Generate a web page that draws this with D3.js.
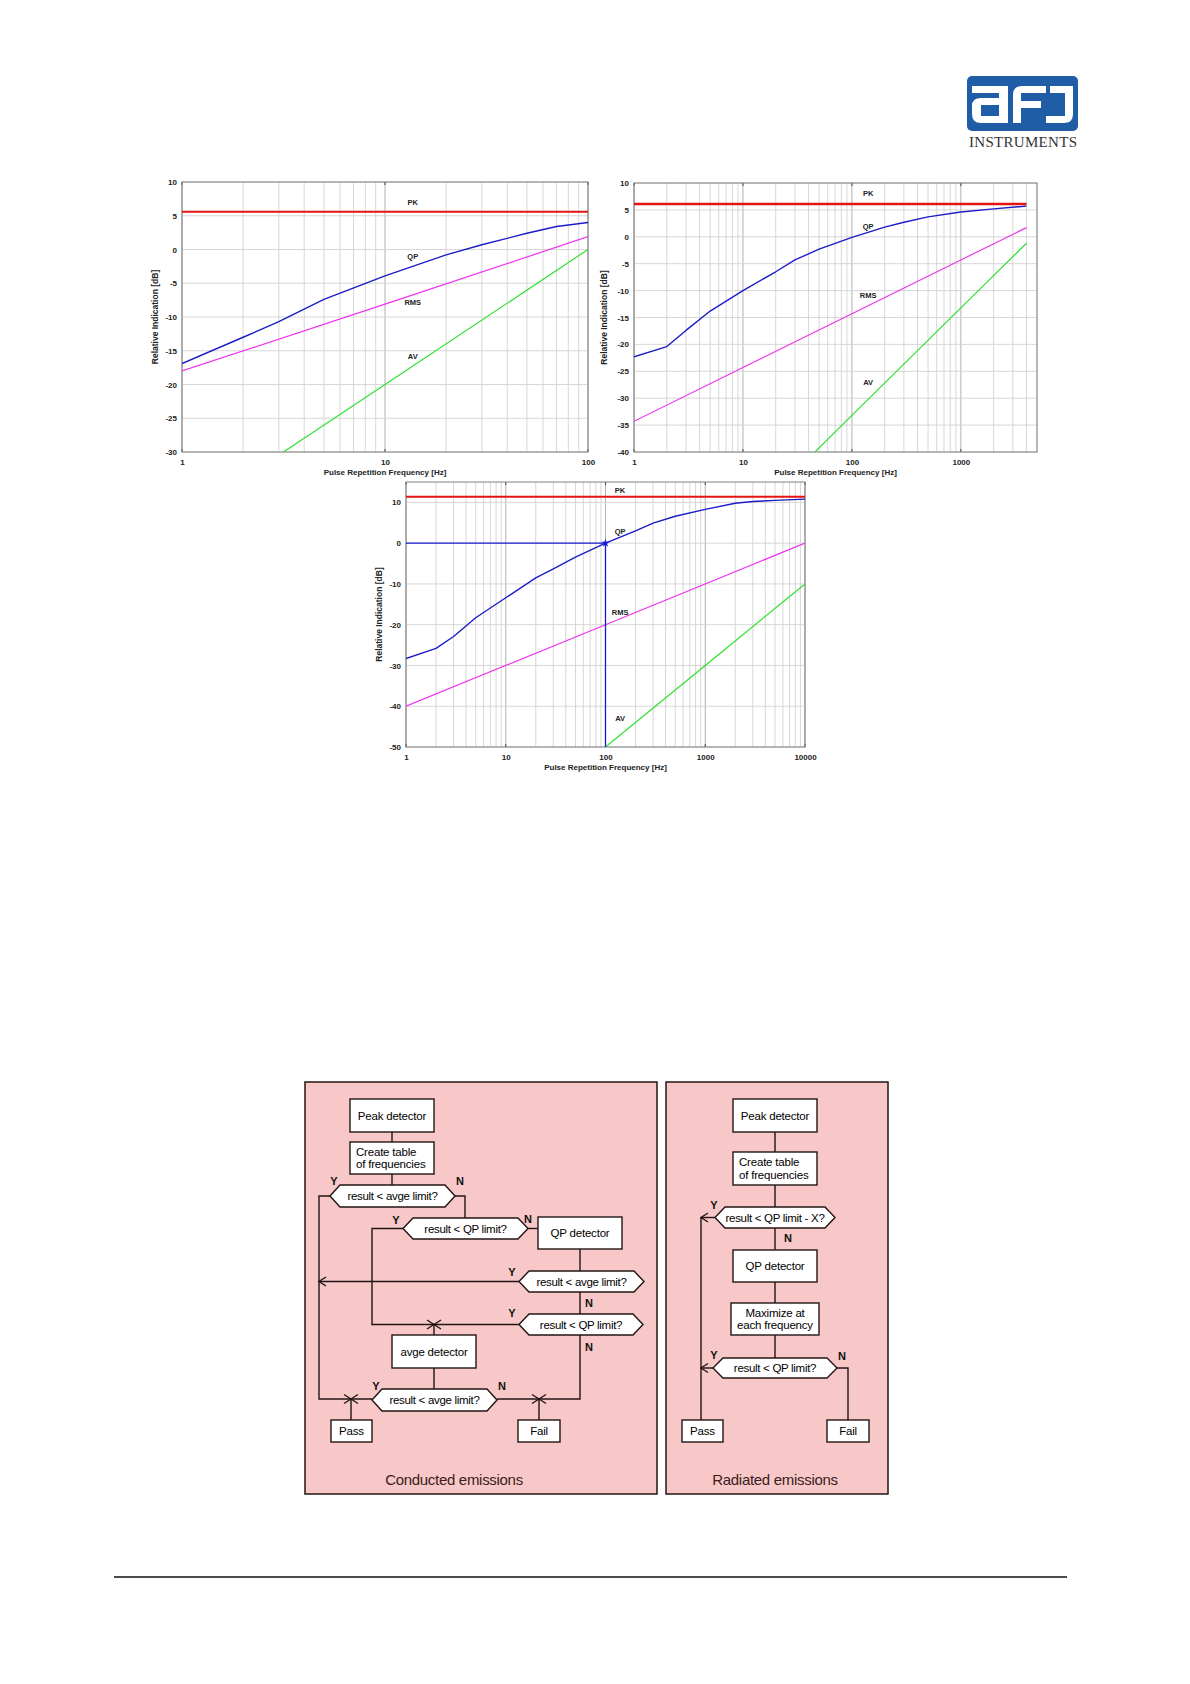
<!DOCTYPE html>
<html>
<head>
<meta charset="utf-8">
<script src="https://cdn.jsdelivr.net/npm/d3@7"></script>
<style>
body{margin:0;background:#fff;}
text{font-family:"Liberation Sans",Arial,sans-serif;}
</style>
</head>
<body>
<script>
// ---- chart 1 : 1..100 Hz
var c1XTicks = [1,10,100];
var c1XLabels = ["1","10","100"];
var c1YTicks = [-30,-25,-20,-15,-10,-5,0,5,10];
var c1PKFreq = [1,100];
var c1PK = [5.6,5.6];
var c1QPFreq = [1,2,3,5,10,20,30,50,70,100];
var c1QP = [-16.9,-13.0,-10.7,-7.4,-3.9,-0.8,0.7,2.4,3.4,4.0];
var c1RMSFreq = [1,10,100];
var c1RMS = [-18,-8.1,1.9];
var c1AVFreq = [3.16,10,100];
var c1AV = [-30,-20,0];

// ---- chart 2 : 1..5000 Hz
var c2XTicks = [1,10,100,1000];
var c2XLabels = ["1","10","100","1000"];
var c2YTicks = [-40,-35,-30,-25,-20,-15,-10,-5,0,5,10];
var c2PKFreq = [1,4000];
var c2PK = [6.1,6.1];
var c2QPFreq = [1,2,3,5,10,20,30,50,100,200,300,500,1000,2000,4000];
var c2QP = [-22.3,-20.4,-17.4,-13.8,-10.0,-6.5,-4.3,-2.3,-0.1,1.8,2.7,3.7,4.6,5.2,5.7];
var c2RMSFreq = [1,10,100,1000,4000];
var c2RMS = [-34.3,-24.3,-14.3,-4.3,1.7];
var c2AVFreq = [45.8,100,1000,4000];
var c2AV = [-40,-33.2,-13.2,-1.2];

// ---- chart 3 : 1..10000 Hz
var c3XTicks = [1,10,100,1000,10000];
var c3XLabels = ["1","10","100","1000","10000"];
var c3YTicks = [-50,-40,-30,-20,-10,0,10];
var c3PKFreq = [1,10000];
var c3PK = [11.4,11.4];
var c3QPFreq = [1,2,3,5,10,20,30,50,100,200,300,500,1000,2000,3000,5000,10000];
var c3QP = [-28.3,-25.8,-22.9,-18.3,-13.4,-8.5,-6.3,-3.4,0,3.0,4.9,6.6,8.3,9.8,10.2,10.5,10.8];
var c3RMSFreq = [1,100,10000];
var c3RMS = [-40,-20,0];
var c3AVFreq = [100,1000,10000];
var c3AV = [-50,-30,-10];
var c3MarkFreq = [1,100,100];
var c3MarkVal = [0,0,-50];

var svg = d3.select("body").append("svg").attr("width",1190).attr("height",1684);
svg.append("rect").attr("width",1190).attr("height",1684).attr("fill","#fff");

function drawChart(cfg, id){
  var x = d3.scaleLog().domain(cfg.xDomain).range([cfg.left,cfg.right]);
  var y = d3.scaleLinear().domain(cfg.yDomain).range([cfg.bottom,cfg.top]);
  var g = svg.append("g");

  g.append("clipPath").attr("id","clip"+id).append("rect")
    .attr("x",cfg.left).attr("y",cfg.top)
    .attr("width",cfg.right-cfg.left).attr("height",cfg.bottom-cfg.top);

  // grid
  g.selectAll("line.vg").data(x.ticks()).enter().append("line")
    .attr("class","vg")
    .attr("x1",function(d){return x(d);}).attr("x2",function(d){return x(d);})
    .attr("y1",cfg.top).attr("y2",cfg.bottom)
    .attr("stroke",function(d){return Math.abs(Math.log10(d)%1)<1e-9 ? "#a8a8a8" : "#d2d2d2";})
    .attr("stroke-width",0.9);
  g.selectAll("line.hg").data(cfg.yTicks).enter().append("line")
    .attr("class","hg")
    .attr("x1",cfg.left).attr("x2",cfg.right)
    .attr("y1",function(d){return y(d);}).attr("y2",function(d){return y(d);})
    .attr("stroke","#d2d2d2").attr("stroke-width",0.9);

  // small ticks on the frame
  g.selectAll("line.tt").data(cfg.xTicks).enter().append("line")
    .attr("x1",function(d){return x(d);}).attr("x2",function(d){return x(d);})
    .attr("y1",cfg.top).attr("y2",cfg.top+3).attr("stroke","#444");
  g.selectAll("line.bt").data(cfg.xTicks).enter().append("line")
    .attr("x1",function(d){return x(d);}).attr("x2",function(d){return x(d);})
    .attr("y1",cfg.bottom).attr("y2",cfg.bottom-3).attr("stroke","#444");

  g.append("rect").attr("x",cfg.left).attr("y",cfg.top)
    .attr("width",cfg.right-cfg.left).attr("height",cfg.bottom-cfg.top)
    .attr("fill","none").attr("stroke","#808080").attr("stroke-width",1);

  // axes (labels only)
  var ax = g.append("g").attr("transform","translate(0,"+cfg.bottom+")")
    .call(d3.axisBottom(x).tickValues(cfg.xTicks)
      .tickFormat(function(d,i){return cfg.xLabels[i];}).tickSize(0).tickPadding(7));
  var ay = g.append("g").attr("transform","translate("+cfg.left+",0)")
    .call(d3.axisLeft(y).tickValues(cfg.yTicks)
      .tickFormat(function(d){return String(d);}).tickSize(0).tickPadding(5));
  [ax,ay].forEach(function(a){
    a.select(".domain").remove();
    a.selectAll("text").attr("font-size",8).attr("font-weight","bold")
      .attr("fill","#222").attr("font-family","Liberation Sans, Arial, sans-serif");
  });

  g.append("text").text("Pulse Repetition Frequency [Hz]")
    .attr("x",(cfg.left+cfg.right)/2).attr("y",cfg.bottom+23)
    .attr("text-anchor","middle").attr("font-size",8).attr("font-weight","bold").attr("fill","#222");
  g.append("text").text("Relative Indication [dB]")
    .attr("transform","translate("+(cfg.left-cfg.yTitleOff)+","+((cfg.top+cfg.bottom)/2)+") rotate(-90)")
    .attr("text-anchor","middle").attr("font-size",8.5).attr("font-weight","bold").attr("fill","#222");

  var line = d3.line().x(function(d){return x(d[0]);}).y(function(d){return y(d[1]);});
  var lines = g.append("g").attr("clip-path","url(#clip"+id+")");
  cfg.series.forEach(function(s){
    lines.append("path").datum(d3.zip(s.f,s.v)).attr("d",line)
      .attr("fill","none").attr("stroke",s.color).attr("stroke-width",s.w)
      .attr("stroke-linejoin","round");
  });
  if(cfg.mark){
    lines.append("path").datum(d3.zip(cfg.mark.f,cfg.mark.v)).attr("d",line)
      .attr("fill","none").attr("stroke","#1a1ad0").attr("stroke-width",1.3);
    g.append("path").attr("d",d3.symbol().type(d3.symbolStar).size(22)())
      .attr("transform","translate("+x(cfg.mark.f[1])+","+y(cfg.mark.v[1])+")")
      .attr("fill","#1a1ad0");
  }
  cfg.labels.forEach(function(l){
    g.append("text").text(l[0]).attr("x",x(cfg.labelF)).attr("y",y(l[1]))
      .attr("dominant-baseline","central").attr("text-anchor","middle")
      .attr("font-size",7.5).attr("font-weight","bold").attr("fill","#222");
  });
}

var RED="#e41414", BLUE="#1c1cc8", MAG="#f032f0", GRN="#2ee02e";

drawChart({left:182,right:588,top:182,bottom:452,xDomain:[1,100],yDomain:[-30,10],
  xTicks:c1XTicks,xLabels:c1XLabels,yTicks:c1YTicks,yTitleOff:24,labelF:13.7,
  labels:[["PK",7.0],["QP",-1.0],["RMS",-7.9],["AV",-15.9]],
  series:[{f:c1PKFreq,v:c1PK,color:RED,w:2},{f:c1QPFreq,v:c1QP,color:BLUE,w:1.4},
          {f:c1RMSFreq,v:c1RMS,color:MAG,w:1.2},{f:c1AVFreq,v:c1AV,color:GRN,w:1.2}]},1);

drawChart({left:634,right:1037,top:183,bottom:452,xDomain:[1,5000],yDomain:[-40,10],
  xTicks:c2XTicks,xLabels:c2XLabels,yTicks:c2YTicks,yTitleOff:27,labelF:141,
  labels:[["PK",8.1],["QP",2.0],["RMS",-11.0],["AV",-27.0]],
  series:[{f:c2PKFreq,v:c2PK,color:RED,w:2.6},{f:c2QPFreq,v:c2QP,color:BLUE,w:1.4},
          {f:c2RMSFreq,v:c2RMS,color:MAG,w:1.2},{f:c2AVFreq,v:c2AV,color:GRN,w:1.2}]},2);

drawChart({left:406,right:805,top:482,bottom:747,xDomain:[1,10000],yDomain:[-50,15],
  xTicks:c3XTicks,xLabels:c3XLabels,yTicks:c3YTicks,yTitleOff:24,labelF:140,
  labels:[["PK",12.8],["QP",2.8],["RMS",-16.9],["AV",-42.9]],
  mark:{f:c3MarkFreq,v:c3MarkVal},
  series:[{f:c3PKFreq,v:c3PK,color:RED,w:2},{f:c3QPFreq,v:c3QP,color:BLUE,w:1.4},
          {f:c3RMSFreq,v:c3RMS,color:MAG,w:1.2},{f:c3AVFreq,v:c3AV,color:GRN,w:1.2}]},3);

// ---- logo
var logo = svg.append("g");
logo.append("rect").attr("x",967).attr("y",76).attr("width",111).attr("height",55).attr("rx",5).attr("fill","#1f5ea6");
logo.append("path").attr("fill","#fff").attr("fill-rule","evenodd")
  .attr("d","M972,86 H1008 V123 H981 Q972,123 972,114 V106 Q972,98 981,98 H999 V93 H972 Z M981,105 H999 V116 H981 Z");
logo.append("path").attr("fill","#fff")
  .attr("d","M1013,123 V95 Q1013,86 1022,86 H1046 V93 H1021 V101 H1041 V108 H1021 V123 Z");
logo.append("path").attr("fill","#fff")
  .attr("d","M1050,86 H1073 V114 Q1073,123 1064,123 H1046 V116 H1065 V93 H1050 Z");
logo.append("text").text("INSTRUMENTS").attr("x",969).attr("y",147)
  .attr("textLength",108).style("font-family","Liberation Serif, Times New Roman, serif")
  .attr("font-size",15).attr("fill","#333");

// ---- flowcharts
var fc = svg.append("g");
var PINK="#f8c8c8", INK="#221414";
var panels = [[305,1082,657,1494,"Conducted emissions",454],[666,1082,888,1494,"Radiated emissions",775]];
var boxes = [
  [350,1099,434,1132,["Peak detector"],"c"],
  [350,1142,434,1174,["Create table","of frequencies"],"l"],
  [538,1217,622,1249,["QP detector"],"c"],
  [392,1335,476,1368,["avge detector"],"c"],
  [331,1420,372,1442,["Pass"],"c"],
  [518,1420,560,1442,["Fail"],"c"],
  [733,1099,817,1132,["Peak detector"],"c"],
  [733,1152,817,1185,["Create table","of frequencies"],"l"],
  [733,1250,817,1282,["QP detector"],"c"],
  [731,1303,819,1335,["Maximize at","each frequency"],"c"],
  [682,1420,723,1442,["Pass"],"c"],
  [827,1420,869,1442,["Fail"],"c"]
];
var hexes = [
  [330,1185,455,1207,"result < avge limit?"],
  [403,1218,528,1239,"result < QP limit?"],
  [519,1271,644,1292,"result < avge limit?"],
  [519,1314,643,1335,"result < QP limit?"],
  [372,1389,497,1411,"result < avge limit?"],
  [715,1207,835,1228,"result < QP limit - X?"],
  [713,1358,837,1378,"result < QP limit?"]
];
var wires = [
  [[392,1132],[392,1142]],[[392,1174],[392,1185]],
  [[330,1196],[319,1196],[319,1399],[372,1399]],
  [[455,1196],[465,1196],[465,1218]],
  [[403,1228.5],[372,1228.5],[372,1324.5],[519,1324.5]],
  [[528,1228.5],[538,1228.5]],
  [[580,1249],[580,1271]],
  [[519,1281.5],[319,1281.5]],
  [[580,1292],[580,1314]],
  [[580,1335],[580,1399],[497,1399]],
  [[434,1324.5],[434,1335]],[[434,1368],[434,1389]],
  [[351,1399],[351,1420]],[[539,1399],[539,1420]],
  [[775,1132],[775,1152]],[[775,1185],[775,1207]],[[775,1228],[775,1250]],
  [[775,1282],[775,1303]],[[775,1335],[775,1358]],
  [[715,1217.5],[701,1217.5]],[[713,1368],[701,1368]],
  [[701,1217.5],[701,1420]],
  [[837,1368],[848,1368],[848,1420]]
];
var arrows = [[319,1281.5],[701,1217.5],[701,1368]];
var crosses = [[351,1399],[539,1399],[434,1324.5]];
var yn = [["Y",334,1181],["N",460,1181],["Y",396,1220],["N",528,1219],["Y",512,1272],
  ["N",589,1303],["Y",512,1313],["N",589,1347],["Y",376,1386],["N",502,1386],
  ["Y",714,1205],["N",788,1238],["Y",714,1355],["N",842,1356]];

fc.selectAll("rect.panel").data(panels).enter().append("rect").attr("class","panel")
  .attr("x",function(d){return d[0];}).attr("y",function(d){return d[1];})
  .attr("width",function(d){return d[2]-d[0];}).attr("height",function(d){return d[3]-d[1];})
  .attr("fill",PINK).attr("stroke",INK).attr("stroke-width",1.5);
fc.selectAll("text.ptitle").data(panels).enter().append("text").attr("class","ptitle")
  .attr("x",function(d){return d[5];}).attr("y",1485)
  .attr("text-anchor","middle").attr("font-size",15).attr("fill","#3a2020")
  .attr("letter-spacing",-0.3).text(function(d){return d[4];});

var wireLine = d3.line();
fc.selectAll("path.wire").data(wires).enter().append("path").attr("class","wire")
  .attr("d",wireLine).attr("fill","none").attr("stroke",INK).attr("stroke-width",1.4);
fc.selectAll("path.arrow").data(arrows).enter().append("path")
  .attr("d",function(d){return "M"+(d[0]+7)+","+(d[1]-4.5)+"L"+d[0]+","+d[1]+"L"+(d[0]+7)+","+(d[1]+4.5);})
  .attr("fill","none").attr("stroke",INK).attr("stroke-width",1.4);
fc.selectAll("path.cross").data(crosses).enter().append("path")
  .attr("d",function(d){return "M"+(d[0]-7)+","+(d[1]-4.5)+"L"+(d[0]+7)+","+(d[1]+4.5)+"M"+(d[0]-7)+","+(d[1]+4.5)+"L"+(d[0]+7)+","+(d[1]-4.5);})
  .attr("fill","none").attr("stroke",INK).attr("stroke-width",1.4);

boxes.forEach(function(b){
  fc.append("rect").attr("x",b[0]).attr("y",b[1]).attr("width",b[2]-b[0]).attr("height",b[3]-b[1])
    .attr("fill","#fff").attr("stroke",INK).attr("stroke-width",1.4);
  var n=b[4].length, cy=(b[1]+b[3])/2;
  b[4].forEach(function(t,i){
    fc.append("text").text(t)
      .attr("x",b[5]=="l" ? b[0]+6 : (b[0]+b[2])/2)
      .attr("y",cy+(i-(n-1)/2)*12.5)
      .attr("text-anchor",b[5]=="l" ? "start" : "middle")
      .attr("dominant-baseline","central").attr("font-size",11.5).attr("letter-spacing",-0.2)
      .attr("fill","#000");
  });
});
hexes.forEach(function(h){
  var d=10, cy=(h[1]+h[3])/2;
  fc.append("path")
    .attr("d","M"+h[0]+","+cy+"L"+(h[0]+d)+","+h[1]+"L"+(h[2]-d)+","+h[1]+"L"+h[2]+","+cy+"L"+(h[2]-d)+","+h[3]+"L"+(h[0]+d)+","+h[3]+"Z")
    .attr("fill","#fff").attr("stroke",INK).attr("stroke-width",1.4);
  fc.append("text").text(h[4]).attr("x",(h[0]+h[2])/2).attr("y",cy)
    .attr("text-anchor","middle").attr("dominant-baseline","central")
    .attr("font-size",11.5).attr("letter-spacing",-0.3).attr("fill","#000");
});
fc.selectAll("text.yn").data(yn).enter().append("text").attr("class","yn")
  .attr("x",function(d){return d[1];}).attr("y",function(d){return d[2];})
  .attr("text-anchor","middle").attr("dominant-baseline","central")
  .attr("font-size",11).attr("font-weight","bold").attr("fill","#111")
  .text(function(d){return d[0];});

// ---- footer rule
svg.append("line").attr("x1",114).attr("x2",1067).attr("y1",1577).attr("y2",1577)
  .attr("stroke","#111").attr("stroke-width",1.5);
</script>
</body>
</html>
